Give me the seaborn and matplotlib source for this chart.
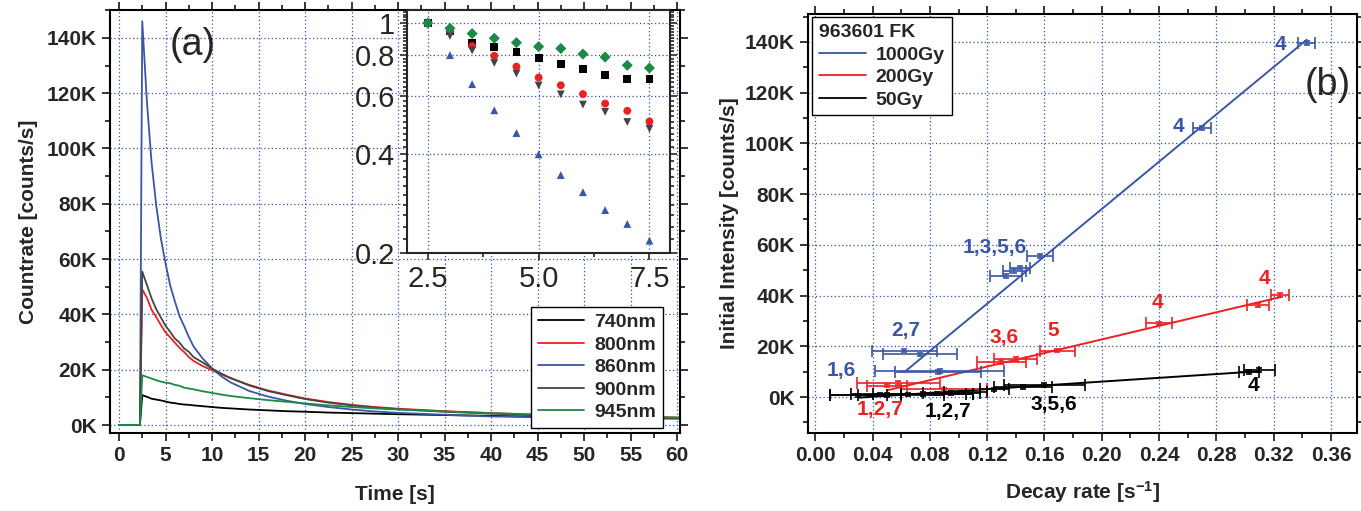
import numpy as np
import pandas as pd
import matplotlib
matplotlib.use("Agg")
import matplotlib.pyplot as plt
from matplotlib.ticker import MultipleLocator, FixedLocator, FuncFormatter
from matplotlib.lines import Line2D
import seaborn as sns

# ---- (a) count rate vs time, values in K counts/s ----
time_s = [0, 1, 2.25, 2.5, 3, 3.5, 4, 4.5, 5, 5.5, 6, 6.5, 7, 7.5, 8, 9, 10, 11, 12,
          14, 16, 18, 20, 22.5, 25, 27.5, 30, 35, 40, 45, 50, 55, 60.3]
rate_740 = [0, 0, 0, 10.8, 10.2, 9.5, 9.2, 8.9, 8.5, 8.1, 7.9, 7.6, 7.4, 7.3, 7.1, 6.8, 6.5, 6.2, 6.0,
            5.6, 5.3, 5.0, 4.8, 4.5, 4.3, 4.1, 3.9, 3.6, 3.3, 3.0, 2.8, 2.6, 2.4]
rate_800 = [0, 0, 0, 49, 46, 41.7, 39, 36.2, 33.5, 31.7, 29.8, 27.9, 26.4, 24.6, 23.2, 21.3, 19.8, 18.3, 16.9,
            14.5, 12.5, 11, 9.6, 8.3, 7.3, 6.5, 5.9, 5.0, 4.3, 3.7, 3.3, 3.0, 2.7]
rate_860 = [0, 0, 0, 146, 117, 95, 79.5, 67.5, 58.5, 50.5, 44.8, 39.4, 35.8, 31.9, 28.5, 24, 20.5, 17.6, 15.4,
            12.3, 10.3, 8.8, 7.6, 6.5, 5.6, 4.9, 4.4, 3.7, 3.1, 2.8, 2.6, 2.4, 2.3]
rate_900 = [0, 0, 0, 55.5, 50.7, 45.8, 41.9, 38.9, 35.9, 33.7, 31.3, 29.8, 27.7, 26.5, 24.6, 22.6, 20.4, 18.6, 17.0,
            14.3, 12.3, 10.8, 9.4, 8.1, 7.1, 6.3, 5.7, 4.8, 4.1, 3.5, 3.1, 2.8, 2.5]
rate_945 = [0, 0, 0, 18, 17.4, 16.8, 16.2, 15.7, 15.3, 15.1, 14.5, 14.2, 13.5, 13.2, 12.9, 12.2, 11.6, 11.0, 10.5,
            9.7, 9.0, 8.4, 7.8, 7.1, 6.5, 6.0, 5.6, 4.9, 4.3, 3.8, 3.4, 3.0, 2.7]
wavelengths = ['740nm', '800nm', '860nm', '900nm', '945nm']
wl_colors = ['#000000', '#ee2020', '#3a56a6', '#454545', '#1a8a45']

# inset: normalised decay
inset_t = [2.5, 3.0, 3.5, 4.0, 4.5, 5.0, 5.5, 6.0, 6.5, 7.0, 7.5]
norm_740 = [1.0, 0.948, 0.872, 0.848, 0.816, 0.781, 0.749, 0.727, 0.696, 0.677, 0.677]
norm_800 = [1.0, 0.942, 0.852, 0.795, 0.737, 0.683, 0.647, 0.608, 0.569, 0.541, 0.502]
norm_860 = [1.0, 0.799, 0.652, 0.543, 0.463, 0.399, 0.345, 0.306, 0.270, 0.245, 0.218]
norm_900 = [1.0, 0.914, 0.825, 0.756, 0.702, 0.646, 0.607, 0.565, 0.537, 0.500, 0.477]
norm_945 = [1.0, 0.964, 0.929, 0.899, 0.872, 0.848, 0.837, 0.805, 0.788, 0.744, 0.730]
wl_markers = ['s', 'o', '^', 'v', 'D']

# ---- (b) initial intensity (K counts/s) vs decay rate ----
doses = ['1000Gy', '200Gy', '50Gy']
dose_colors = ['#3a56a6', '#ee2020', '#000000']
rate_1000 = [0.343, 0.270, 0.157, 0.143, 0.139, 0.133, 0.062, 0.073, 0.087, 0.086]
int_1000 = [139.5, 106.0, 55.6, 51.0, 49.6, 47.7, 18.3, 16.8, 10.3, 9.9]
err_1000 = [0.006, 0.0064, 0.009, 0.007, 0.008, 0.011, 0.0227, 0.0257, 0.045, 0.030]
rate_200 = [0.3245, 0.309, 0.240, 0.169, 0.140, 0.130, 0.058, 0.050, 0.090]
int_200 = [40.2, 36.3, 29.0, 18.3, 15.0, 13.8, 5.5, 4.5, 3.0]
err_200 = [0.0064, 0.008, 0.009, 0.012, 0.015, 0.017, 0.029, 0.014, 0.030]
rate_50 = [0.310, 0.303, 0.160, 0.145, 0.125, 0.105, 0.095, 0.085, 0.075, 0.065, 0.050, 0.045, 0.030]
int_50 = [10.6, 9.9, 4.8, 4.0, 3.0, 1.8, 1.5, 1.3, 1.2, 1.0, 0.8, 0.9, 0.6]
err_50 = [0.011, 0.007, 0.028, 0.020, 0.010, 0.015, 0.020, 0.025, 0.035, 0.040, 0.040, 0.015, 0.020]
yerr_k = 0.7

labels_b = [('4', 0.3245, 138.8, 0), ('4', 0.2533, 106.5, 0), ('1,3,5,6', 0.1256, 58.8, 0),
            ('2,7', 0.0635, 26.4, 0), ('1,6', 0.0181, 10.6, 0),
            ('4', 0.3133, 46.9, 1), ('4', 0.2387, 37.1, 1), ('5', 0.166, 26.4, 1),
            ('3,6', 0.132, 23.3, 1), ('1,2,7', 0.0454, -5.1, 1),
            ('1,2,7', 0.0928, -5.9, 2), ('3,5,6', 0.1668, -2.8, 2), ('4', 0.3057, 4.7, 2)]

sns.set_theme(style='ticks')
plt.rcParams['font.family'] = ['Liberation Sans', 'DejaVu Sans']
plt.rcParams['mathtext.fontset'] = 'custom'
plt.rcParams['mathtext.rm'] = 'Liberation Sans:bold'
plt.rcParams['mathtext.bf'] = 'Liberation Sans:bold'
plt.rcParams['mathtext.default'] = 'bf'
plt.rcParams['axes.linewidth'] = 1.5

grid_kw = dict(color='#3550b0', linestyle=(0, (1, 2)), linewidth=0.9)
kfmt = FuncFormatter(lambda v, p: f'{v:.0f}K')
leg_kw = dict(fancybox=False, edgecolor='black', framealpha=1, handlelength=2.4, handletextpad=0.5,
              borderpad=0.35, labelspacing=0.25, borderaxespad=0, prop=dict(size=14, weight='bold'))

fig = plt.figure(figsize=(13.61, 5.11), dpi=100)
ax1 = fig.add_axes([0.0808, 0.1526, 0.4188, 0.8274])
ax2 = fig.add_axes([0.5937, 0.1526, 0.4033, 0.8200])

# panel (a)
all_rates = [rate_740, rate_800, rate_860, rate_900, rate_945]
df = pd.DataFrame({'t': time_s * 5,
                   'rate': sum(all_rates, []),
                   'wl': np.repeat(wavelengths, len(time_s))})
sns.lineplot(data=df, x='t', y='rate', hue='wl', palette=dict(zip(wavelengths, wl_colors)),
             linewidth=1.3, sort=False, legend=False, ax=ax1)
ax1.set_xlim(-0.97, 60.3)
ax1.set_ylim(-2.9, 150)
ax1.xaxis.set_major_locator(MultipleLocator(5))
ax1.xaxis.set_minor_locator(MultipleLocator(2.5))
ax1.yaxis.set_major_locator(MultipleLocator(20))
ax1.yaxis.set_minor_locator(MultipleLocator(10))
ax1.yaxis.set_major_formatter(kfmt)
ax1.grid(True, which='major', **grid_kw)
ax1.set_xlabel('Time [s]', fontsize=15, fontweight='bold', labelpad=14)
ax1.set_ylabel('Countrate [counts/s]', fontsize=15, fontweight='bold', labelpad=6)
ax1.text(0.145, 0.917, '(a)', transform=ax1.transAxes, fontsize=27, ha='center', va='center')
h1 = [Line2D([], [], color=c, lw=1.3) for c in wl_colors]
leg1 = ax1.legend(h1, wavelengths, loc='lower right', bbox_to_anchor=(0.97, 0.012), **leg_kw)
leg1.get_frame().set_linewidth(1.0)

# inset
axin = fig.add_axes([0.299, 0.505, 0.1935, 0.475])
axin.set_facecolor('white')
all_norm = [norm_740, norm_800, norm_860, norm_900, norm_945]
dfi = pd.DataFrame({'t': inset_t * 5,
                    'norm': sum(all_norm, []),
                    'wl': np.repeat(wavelengths, len(inset_t))})
sns.scatterplot(data=dfi, x='t', y='norm', hue='wl', style='wl',
                palette=dict(zip(wavelengths, wl_colors)), markers=dict(zip(wavelengths, wl_markers)),
                s=32, edgecolor='none', legend=False, ax=axin, zorder=3)
axin.set_yscale('log')
axin.set_xlim(2.03, 7.97)
axin.set_ylim(0.2, 1.094)
axin.yaxis.set_major_locator(FixedLocator([0.2, 0.4, 0.6, 0.8, 1.0]))
axin.yaxis.set_major_formatter(FuncFormatter(lambda v, p: f'{v:g}'))
axin.yaxis.set_minor_locator(FixedLocator(np.arange(0.22, 1.09, 0.02)))
axin.yaxis.set_minor_formatter(FuncFormatter(lambda v, p: ''))
axin.xaxis.set_major_locator(MultipleLocator(2.5))
axin.xaxis.set_minor_locator(MultipleLocator(1.25))
axin.xaxis.set_major_formatter(FuncFormatter(lambda v, p: f'{v:.1f}'))
axin.grid(True, which='major', **grid_kw)
axin.set_xlabel('')
axin.set_ylabel('')
axin.tick_params(which='both', direction='out', labelsize=21, width=1.2, right=True, top=False)
axin.tick_params(which='major', length=5)
axin.tick_params(which='minor', length=3)

# panel (b)
series_b = [(rate_1000, int_1000, err_1000), (rate_200, int_200, err_200), (rate_50, int_50, err_50)]
for (rx, iy, ex), c in zip(series_b, dose_colors):
    ax2.errorbar(rx, iy, xerr=ex, fmt='none', ecolor=c, elinewidth=1.2,
                 capsize=4, capthick=1.2, zorder=3)
    ax2.errorbar(rx, iy, yerr=yerr_k, fmt='none', ecolor=c, elinewidth=1.2,
                 capsize=2.5, capthick=1.2, zorder=3)
    sns.regplot(x=np.array(rx), y=np.array(iy), scatter=False, ci=None, truncate=True,
                line_kws=dict(color=c, lw=1.4), ax=ax2)
for txt, x, y, ci in labels_b:
    ax2.text(x, y, txt, color=dose_colors[ci], fontsize=15, fontweight='bold', ha='center', va='center')
ax2.set_xlim(-0.005, 0.378)
ax2.set_ylim(-14.2, 151)
ax2.xaxis.set_major_locator(MultipleLocator(0.04))
ax2.xaxis.set_minor_locator(MultipleLocator(0.02))
ax2.xaxis.set_major_formatter(FuncFormatter(lambda v, p: f'{v:.2f}'))
ax2.yaxis.set_major_locator(MultipleLocator(20))
ax2.yaxis.set_minor_locator(MultipleLocator(10))
ax2.yaxis.set_major_formatter(kfmt)
ax2.grid(True, which='major', **grid_kw)
ax2.set_xlabel(r'Decay rate [s$^{-1}$]', fontsize=15, fontweight='bold', labelpad=10)
ax2.set_ylabel('Initial Intensity [counts/s]', fontsize=15, fontweight='bold')
ax2.text(0.947, 0.83, '(b)', transform=ax2.transAxes, fontsize=27, ha='center', va='center')
h2 = [Line2D([], [], color=c, lw=1.3) for c in dose_colors]
leg2 = ax2.legend(h2, doses, loc='upper left', bbox_to_anchor=(0.008, 0.992),
                  title='963601 FK', alignment='left',
                  title_fontproperties=dict(size=14, weight='bold'), **leg_kw)
leg2.get_frame().set_linewidth(1.0)

for ax in (ax1, ax2):
    ax.tick_params(which='both', direction='out', width=1.3, top=True, right=True)
    ax.tick_params(which='major', length=6, labelsize=15)
    ax.tick_params(which='minor', length=3.5)
    for lab in ax.get_xticklabels() + ax.get_yticklabels():
        lab.set_fontweight('bold')
    for sp in ax.spines.values():
        sp.set_color('black')

fig.savefig('out.png', dpi=100)
